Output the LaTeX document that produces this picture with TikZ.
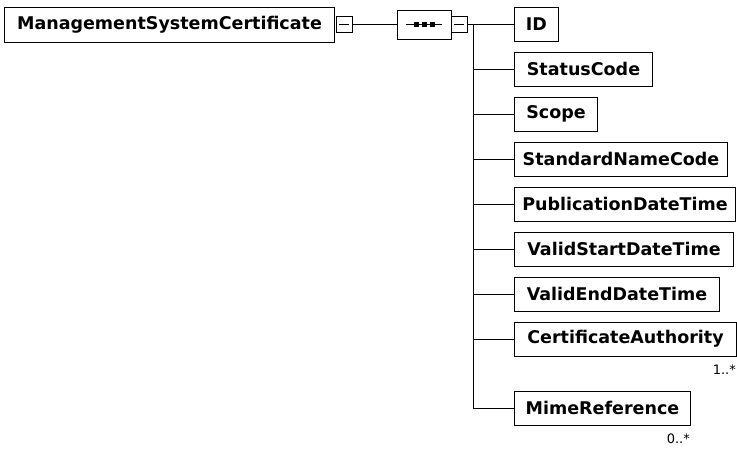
\documentclass[tikz,border=0pt]{standalone}
\usepackage{fontspec}
\setmainfont{DejaVu Sans}
\usetikzlibrary{shapes.misc}
\begin{document}
\begin{tikzpicture}[x=1pt,y=-1pt,
  elem/.style={draw,line width=1pt,rectangle,inner sep=0pt,minimum height=34pt,anchor=west,font=\bfseries\fontsize{17.5}{17.5}\selectfont},
  minus/.style={draw,line width=1pt,rectangle,inner sep=0pt,minimum width=16pt,minimum height=16pt},
  conn/.style={line width=1pt},
  mult/.style={font=\fontsize{13}{13}\selectfont,inner sep=0pt,anchor=east}]
\useasboundingbox (0,0) rectangle (737,450);
\node[elem,minimum width=330pt,minimum height=35pt] (root) at (4,24.5) {ManagementSystemCertificate};
\node[minus] (m1) at (344,24.5) {};
\draw[conn] ([xshift=-5pt]m1.center) -- ([xshift=5pt]m1.center);
\node[draw,line width=1pt,chamfered rectangle,chamfered rectangle xsep=5pt,chamfered rectangle ysep=5pt,inner sep=0pt,minimum width=54pt,minimum height=29pt] (seq) at (424,24.5) {};
\draw[conn] (406,24.5) -- (442,24.5);
\foreach \xx in {416,424,432} \fill (\xx-2.5,22) rectangle (\xx+2.5,27);
\node[minus] (m2) at (459,24.5) {};
\draw[conn] ([xshift=-5pt]m2.center) -- ([xshift=5pt]m2.center);
\draw[conn] (m1.east) -- (seq.west);
\coordinate (bus) at (473,24.5);
\coordinate (busend) at (473,408);
\draw[conn] (m2.east) -- (bus);
\draw[conn] (bus) -- (busend);
\node[elem,minimum width=44pt] (c1) at (514,24.5) {ID};
\node[elem,minimum width=138pt] (c2) at (514,69) {StatusCode};
\node[elem,minimum width=83pt] (c3) at (514,114) {Scope};
\node[elem,minimum width=213pt] (c4) at (514,159) {StandardNameCode};
\node[elem,minimum width=221pt] (c5) at (514,204) {PublicationDateTime};
\node[elem,minimum width=219pt] (c6) at (514,249) {ValidStartDateTime};
\node[elem,minimum width=205pt] (c7) at (514,294) {ValidEndDateTime};
\node[elem,minimum width=222pt] (c8) at (514,339) {CertificateAuthority};
\node[elem,minimum width=176pt] (c9) at (514,408) {MimeReference};
\foreach \c in {c1,c2,c3,c4,c5,c6,c7,c8,c9}
  \draw[conn] (\c.west) -- (\c.west -| bus);
\node[mult] (l8) at (736,370) {1..*};
\node[mult] (l9) at (690,439) {0..*};
\end{tikzpicture}
\end{document}
